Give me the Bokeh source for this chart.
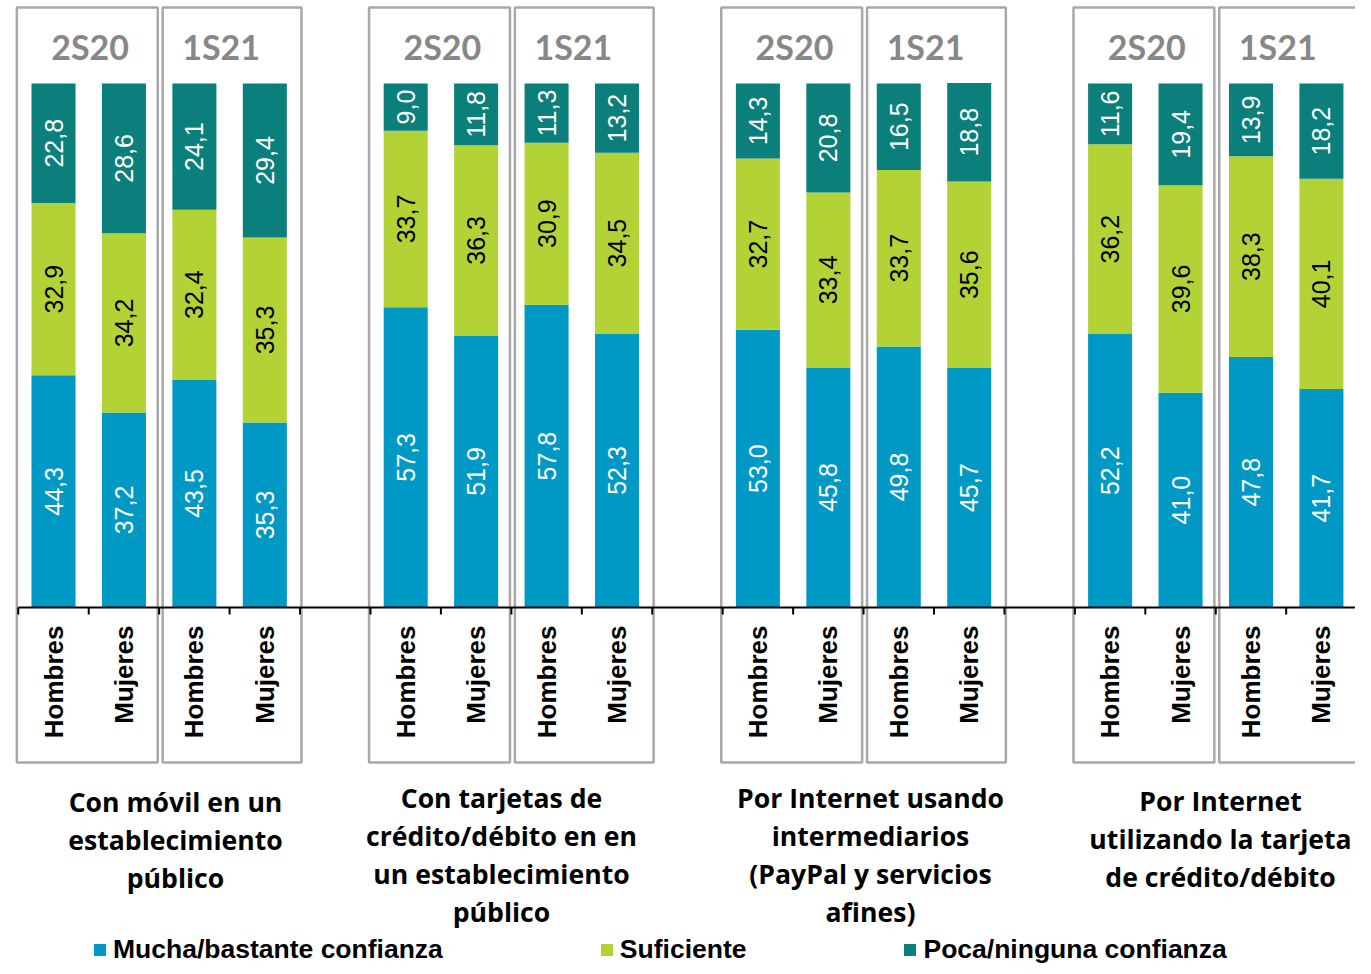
from bokeh.plotting import figure
from bokeh.models import ColumnDataSource, Range1d, Legend, LegendItem
from bokeh.core.properties import value
from bokeh.embed import file_html
from bokeh.resources import INLINE
import math

# ---------------- data ----------------
categories = [
    ["Con móvil en un", "establecimiento", "público"],
    ["Con tarjetas de", "crédito/débito en en", "un establecimiento", "público"],
    ["Por Internet usando", "intermediarios", "(PayPal y servicios", "afines)"],
    ["Por Internet", "utilizando la tarjeta", "de crédito/débito"],
]
periods = ["2S20", "1S21"]
sexes = ["Hombres", "Mujeres"]
series_names = ["Mucha/bastante confianza", "Suficiente", "Poca/ninguna confianza"]

# order per category: 2S20 Hombres, 2S20 Mujeres, 1S21 Hombres, 1S21 Mujeres
mucha = [44.3, 37.2, 43.5, 35.3,
         57.3, 51.9, 57.8, 52.3,
         53.0, 45.8, 49.8, 45.7,
         52.2, 41.0, 47.8, 41.7]
suficiente = [32.9, 34.2, 32.4, 35.3,
              33.7, 36.3, 30.9, 34.5,
              32.7, 33.4, 33.7, 35.6,
              36.2, 39.6, 38.3, 40.1]
poca = [22.8, 28.6, 24.1, 29.4,
        9.0, 11.8, 11.3, 13.2,
        14.3, 20.8, 16.5, 18.8,
        11.6, 19.4, 13.9, 18.2]

# ---------------- styling ----------------
BLUE = "#0099C5"
LIME = "#B2D235"
TEAL = "#0A7F7B"
BOX = "#A8A8A8"
PERIOD = "#878787"

W, H = 1355, 966
PX_PER_SLOT = 70.44
PX_PER_UNIT = 5.24
# canvas pixel helpers: slot 0 centre at x=53 px, value 0 at y=607 px
def sx(px):
    return (px - 53) / PX_PER_SLOT
def sy(py):
    return (607 - py) / PX_PER_UNIT

p = figure(width=W, height=H, output_backend="svg", toolbar_location=None,
           x_range=Range1d(sx(0), sx(W)), y_range=Range1d(sy(H), sy(0)),
           min_border=0, min_border_left=0, min_border_right=0,
           min_border_top=0, min_border_bottom=0)
p.xaxis.visible = False
p.yaxis.visible = False
p.grid.visible = False
p.outline_line_color = None
p.background_fill_color = "white"
p.border_fill_color = "white"

n_groups = len(categories)
xs, sex_lbl = [], []
for g in range(n_groups):
    for k in range(4):
        xs.append(g * 5 + k)
        sex_lbl.append(sexes[k % 2])

fmt = lambda v: f"{v:.1f}".replace(".", ",")
src = ColumnDataSource(dict(
    x=xs, mucha=mucha, suf=suficiente, poca=poca,
    y1=[a / 2 for a in mucha],
    y2=[a + b / 2 for a, b in zip(mucha, suficiente)],
    y3=[a + b + c / 2 for a, b, c in zip(mucha, suficiente, poca)],
    t1=[fmt(v) for v in mucha],
    t2=[fmt(v) for v in suficiente],
    t3=[fmt(v) for v in poca],
    sex=sex_lbl,
))

# boxes around each period pair
bl, br = [], []
for g in range(n_groups):
    s = g * 5
    bl += [s - 0.52, s + 1.55]
    br += [s + 1.48, s + 3.52]
p.quad(left=bl, right=br, top=sy(7), bottom=sy(762), fill_color=None,
       line_color=BOX, line_width=2.5)

bars = p.vbar_stack(["mucha", "suf", "poca"], x="x", width=0.625, source=src,
                    color=[BLUE, LIME, TEAL], line_color=None)

lab_font = value("Liberation Sans")
for col, ycol, colr in (("t1", "y1", "white"), ("t2", "y2", "black"), ("t3", "y3", "white")):
    p.text(x="x", y=ycol, text=col, source=src, angle=math.pi / 2,
           text_align="center", text_baseline="middle", text_color=colr,
           text_font=lab_font, text_font_size="25px")

# axis line and ticks
last = (n_groups - 1) * 5 + 3
p.segment(x0=-0.5, y0=0, x1=last + 0.5, y1=0, line_color="black", line_width=2)
ticks = [i - 0.5 for i in range(last + 2)]
p.segment(x0=ticks, y0=[0] * len(ticks), x1=ticks, y1=[sy(614)] * len(ticks),
          line_color="black", line_width=2)

# sex labels
p.text(x="x", y=sy(625), text="sex", source=src, angle=math.pi / 2,
       text_align="right", text_baseline="middle", text_color="black",
       text_font=lab_font, text_font_style="bold", text_font_size="26px")

# period labels
per_x, per_t = [], []
for g in range(n_groups):
    s = g * 5
    per_x += [s + 0.52, s + 2.38]
    per_t += periods
p.text(x=per_x, y=[sy(46)] * len(per_x), text=per_t, text_align="center",
       text_baseline="middle", text_color=PERIOD, text_font=value("Lato"),
       text_font_style="bold", text_font_size="34px")

# category labels
cat_cx = [175, 501, 870, 1220]
cat_y0 = [801, 797, 797, 800]
cx, cy, ct = [], [], []
for g, lines in enumerate(categories):
    for i, line in enumerate(lines):
        cx.append(sx(cat_cx[g]))
        cy.append(sy(cat_y0[g] + 38 * i))
        ct.append(line)
p.text(x=cx, y=cy, text=ct, text_align="center", text_baseline="middle",
       text_color="black", text_font=value("Open Sans"), text_font_style="bold",
       text_font_size="26.6px")

legend = Legend(items=[LegendItem(label=n, renderers=[r]) for n, r in zip(series_names, bars)],
                orientation="horizontal", location=(92, 1),
                label_text_font="Liberation Sans", label_text_font_style="bold",
                label_text_font_size="26.5px", label_text_color="black",
                glyph_width=15, glyph_height=15, label_standoff=6, spacing=156,
                padding=0, margin=0, border_line_color=None, background_fill_alpha=0)
p.add_layout(legend)

open("out.html", "w").write(file_html(p, INLINE))
